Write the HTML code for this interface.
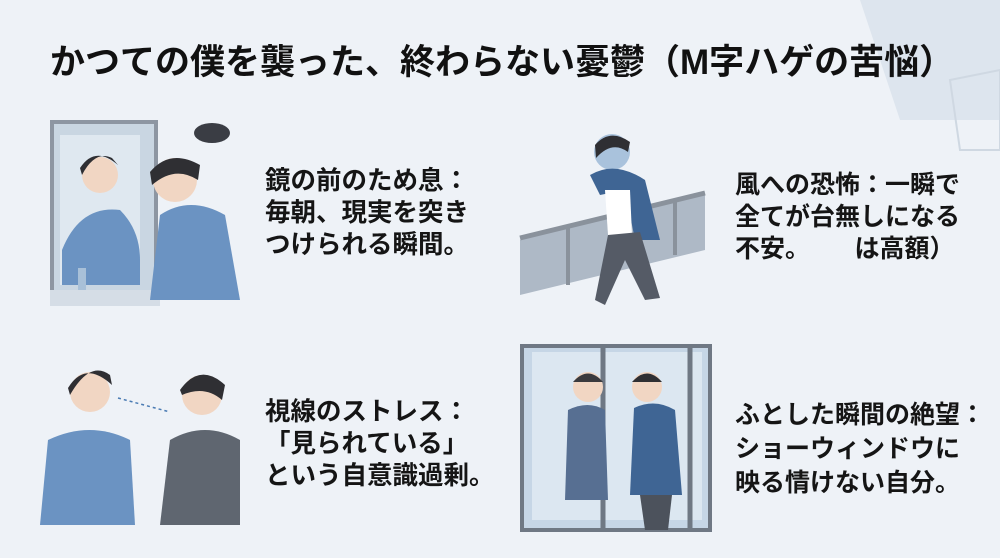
<!DOCTYPE html>
<html><head><meta charset="utf-8"><style>
body{margin:0;width:1000px;height:558px;overflow:hidden;background:#eef2f7;font-family:"Liberation Sans","Noto Sans CJK JP",sans-serif;position:relative}
.t{position:absolute;font-weight:bold;color:#111;white-space:nowrap}
.p{position:absolute;font-weight:bold;color:#151515;font-size:25px;line-height:32px;white-space:nowrap}
svg{position:absolute;left:0;top:0}
</style></head><body>
<svg width="1000" height="558">
<polygon points="860,0 1000,0 1000,120 900,120" fill="#dde5ee"/>
<polygon points="950,80 1000,70 1000,150 960,150" fill="none" stroke="#cfd8e2" stroke-width="2"/>
<rect x="52" y="122" width="104" height="172" fill="#c9d6e2" stroke="#8d96a2" stroke-width="4"/>
<rect x="60" y="135" width="80" height="150" fill="#dfe8f0"/>
<circle cx="100" cy="175" r="18" fill="#f1d6c3"/><path d="M80,168 Q95,145 118,165 L112,158 Q95,150 82,175Z" fill="#2f2f33"/>
<path d="M62,250 Q80,205 120,210 Q140,230 140,260 L140,285 L62,285Z" fill="#6b93c2"/>
<rect x="50" y="290" width="110" height="16" fill="#d5dde6"/>
<rect x="78" y="268" width="8" height="22" fill="#a8c0d8"/>
<circle cx="175" cy="180" r="22" fill="#f1d6c3"/><path d="M150,172 Q170,148 200,165 L198,180 Q175,165 152,185Z" fill="#2f2f33"/>
<path d="M150,300 L160,215 Q190,195 225,215 L240,300Z" fill="#6b93c2"/>
<ellipse cx="212" cy="133" rx="18" ry="10" fill="#3a3d44"/>
<path d="M520,240 L705,195 L705,250 L520,295Z" fill="#aeb9c6"/>
<path d="M520,238 L705,193" stroke="#8a929c" stroke-width="5"/>
<line x1="568" y1="228" x2="568" y2="285" stroke="#8a929c" stroke-width="4"/>
<line x1="675" y1="202" x2="675" y2="255" stroke="#8a929c" stroke-width="4"/>
<circle cx="612" cy="152" r="18" fill="#a9c2dc"/><path d="M595,145 Q610,128 630,142 L628,152 Q612,140 596,158Z" fill="#2f2f33"/>
<path d="M590,175 Q615,160 645,180 L660,240 L635,240 L625,190 L600,195Z" fill="#3f6594"/>
<path d="M605,190 L630,190 L632,235 L608,235Z" fill="#ffffff"/>
<path d="M608,235 L640,232 L660,298 L645,300 L625,260 L605,305 L595,300Z" fill="#555b66"/>
<circle cx="90" cy="392" r="20" fill="#f1d6c3"/><path d="M68,388 Q85,360 112,385 L110,375 Q90,360 70,395Z" fill="#2f2f33"/>
<path d="M40,525 L48,440 Q90,420 130,440 L135,525Z" fill="#6b93c2"/>
<circle cx="202" cy="395" r="20" fill="#f1d6c3"/><path d="M180,390 Q200,362 225,385 L222,400 Q205,385 182,395Z" fill="#2f2f33"/>
<path d="M160,525 L170,440 Q205,420 240,440 L240,525Z" fill="#5f6670"/>
<line x1="118" y1="398" x2="170" y2="412" stroke="#4a7bb3" stroke-width="1.5" stroke-dasharray="3,3"/>
<rect x="522" y="346" width="188" height="184" fill="#c6d6e6"/>
<rect x="532" y="352" width="170" height="168" fill="#dce7f1"/>
<line x1="603" y1="346" x2="603" y2="530" stroke="#6f7884" stroke-width="5"/>
<line x1="690" y1="346" x2="690" y2="530" stroke="#6f7884" stroke-width="5"/>
<rect x="522" y="346" width="188" height="184" fill="none" stroke="#6f7884" stroke-width="4"/>
<circle cx="588" cy="387" r="15" fill="#f1d6c3"/><path d="M573,382 Q588,365 603,382Z" fill="#3a3a3e"/>
<path d="M565,500 L568,410 Q588,400 605,410 L608,500Z" fill="#576f92"/>
<circle cx="647" cy="387" r="15" fill="#f1d6c3"/><path d="M632,382 Q647,365 662,382Z" fill="#2f2f33"/>
<path d="M630,495 L634,408 Q655,398 675,410 L682,495Z" fill="#3f6594"/>
<path d="M640,495 L672,495 L668,530 L645,530Z" fill="#4c525c"/>
</svg>
<div class="t" style="left:50px;top:34px;font-size:35px">かつての僕を襲った、終わらない憂鬱（M字ハゲの苦悩）</div>
<div class="p" style="left:265px;top:165px;font-size:25.5px">鏡の前のため息：<br>毎朝、現実を突き<br>つけられる瞬間。</div>
<div class="p" style="left:735px;top:169px">風への恐怖：一瞬で<br>全てが台無しになる<br>不安。　　 は高額）</div>
<div class="p" style="left:265px;top:396px;font-size:25.5px">視線のストレス：<br>「見られている」<br>という自意識過剰。</div>
<div class="p" style="left:735px;top:398px;line-height:34px">ふとした瞬間の絶望：<br>ショーウィンドウに<br>映る情けない自分。</div>
</body></html>
